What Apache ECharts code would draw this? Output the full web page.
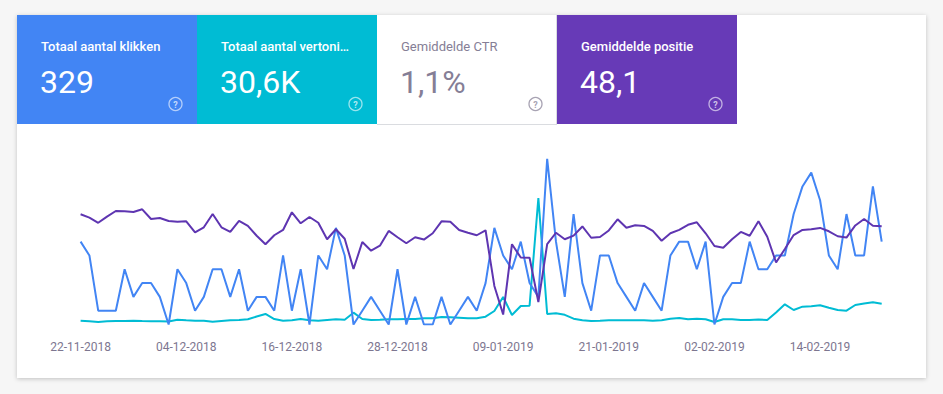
<!DOCTYPE html>
<html>
<head>
<meta charset="utf-8">
<script src="https://cdn.jsdelivr.net/npm/echarts@6/dist/echarts.min.js"></script>
<style>
html,body{margin:0;padding:0;background:#f6f6f6;}
#chart{width:943px;height:394px;}
</style>
</head>
<body>
<div id="chart"></div>
<script>
const dates = [
'22-11-2018','23-11-2018','24-11-2018','25-11-2018','26-11-2018','27-11-2018','28-11-2018','29-11-2018','30-11-2018',
'01-12-2018','02-12-2018','03-12-2018','04-12-2018','05-12-2018','06-12-2018','07-12-2018','08-12-2018','09-12-2018','10-12-2018',
'11-12-2018','12-12-2018','13-12-2018','14-12-2018','15-12-2018','16-12-2018','17-12-2018','18-12-2018','19-12-2018','20-12-2018',
'21-12-2018','22-12-2018','23-12-2018','24-12-2018','25-12-2018','26-12-2018','27-12-2018','28-12-2018','29-12-2018','30-12-2018','31-12-2018',
'01-01-2019','02-01-2019','03-01-2019','04-01-2019','05-01-2019','06-01-2019','07-01-2019','08-01-2019','09-01-2019','10-01-2019',
'11-01-2019','12-01-2019','13-01-2019','14-01-2019','15-01-2019','16-01-2019','17-01-2019','18-01-2019','19-01-2019','20-01-2019',
'21-01-2019','22-01-2019','23-01-2019','24-01-2019','25-01-2019','26-01-2019','27-01-2019','28-01-2019','29-01-2019','30-01-2019','31-01-2019',
'01-02-2019','02-02-2019','03-02-2019','04-02-2019','05-02-2019','06-02-2019','07-02-2019','08-02-2019','09-02-2019','10-02-2019',
'11-02-2019','12-02-2019','13-02-2019','14-02-2019','15-02-2019','16-02-2019','17-02-2019','18-02-2019','19-02-2019','20-02-2019','21-02-2019'
];

const clicks = [6,5,1,1,1,4,2,3,3,2, 0,4,3,1,2,4,4,2,4,1, 2,2,1,5,1,4,0,5,4,7, 5,0,1,2,1,0,4,0,2,0,
  0,2,0,1,2,1,3,7,5,4, 6,3,2,12,6,2,8,3,1,5, 5,3,2,1,3,2,1,5,6,6, 4,6,0,2,3,3,6,4,4,5,
  5,8,10,11,9,5,4,8,5,5, 10,6];

const impressions = [143,120,94,120,131,131,143,131,120,120, 113,176,158,143,143,105,131,158,169,195,
  300,394,206,143,158,206,161,143,169,195, 180,443,206,169,180,195,195,206,206,233,
  233,281,270,255,233,233,293,506,1031,356, 694,705,4744,394,420,364,218,161,131,143,
  158,158,158,158,158,139,158,218,244,195, 218,195,94,195,195,169,169,188,169,450,
  758,544,668,683,724,630,544,518,731,788, 836,776];

const position = [41.7,43.7,46.8,43.1,39.7,39.9,40.3,38.7,44.5,43.9, 45.7,46.2,45.9,52.6,49.5,41.5,49.5,52.3,45.7,48.7,
  54.6,59.7,54.3,51.1,40.5,47.1,43.3,46.8,56.7,50.7, 56.4,74.6,58.4,63.6,60.6,51.7,55.5,59.1,55.5,56.9,
  53.1,45.9,46.2,51.1,52.8,54.3,51.3,84.8,102.0,59.7, 67.7,67.8,94.5,59.7,52.8,56.7,54.5,49.0,55.8,55.4,
  51.4,44.7,49.8,48.3,48.7,51.7,57.6,53.1,51.1,48.0, 46.5,53.1,60.8,61.8,56.7,52.3,54.6,45.9,55.2,70.7,
  62.6,54.2,51.1,50.7,49.9,51.9,54.9,55.7,48.4,44.5, 48.6,48.9];

const cardTitles = ['Totaal aantal klikken','Totaal aantal vertoni\u2026','Gemiddelde CTR','Gemiddelde positie'];
const cardValues = ['329','30,6K','1,1%','48,1'];
const cardColors = ['#4285f4','#00bcd4','#ffffff','#673ab7'];

const FONT = 'Roboto, "Noto Sans", sans-serif';
const graphics = [];
graphics.push({type:'rect', shape:{x:17,y:15,width:909,height:363},
  style:{fill:'#ffffff', shadowBlur:4, shadowColor:'rgba(0,0,0,0.22)', shadowOffsetY:1}, z:-10});
cardTitles.forEach((t,k)=>{
  const x0 = 17 + k*180;
  const dark = cardColors[k] !== '#ffffff';
  graphics.push({type:'rect', shape:{x:x0,y:15,width:180,height:109}, style:{fill:cardColors[k]}, z:-5});
  if(!dark){
    graphics.push({type:'line', shape:{x1:x0+179.5,y1:15,x2:x0+179.5,y2:124}, style:{stroke:'#dadce0',lineWidth:1}, z:-4});
    graphics.push({type:'line', shape:{x1:x0,y1:124.5,x2:x0+180,y2:124.5}, style:{stroke:'#dadce0',lineWidth:1}, z:-4});
  }
  graphics.push({type:'text', x:x0+24, y:46, style:{text:t, fill: dark?'#ffffff':'#857e96', font:(dark?'500':'400')+' 13px '+FONT, verticalAlign:'middle'}});
  graphics.push({type:'text', x:x0+23, y:82, style:{text:cardValues[k], fill: dark?'#ffffff':'#857e96', font:'400 32px '+FONT, verticalAlign:'middle'}});
  graphics.push({type:'circle', shape:{cx:x0+158.5,cy:104,r:6.5}, style:{fill:'none', stroke: dark?'rgba(255,255,255,0.6)':'#a8a3b3', lineWidth:1.3}});
  graphics.push({type:'text', x:x0+158.5, y:104.5, style:{text:'?', fill: dark?'rgba(255,255,255,0.7)':'#a8a3b3', font:'bold 9px '+FONT, align:'center', verticalAlign:'middle'}});
});

const chart = echarts.init(document.getElementById('chart'), null, {renderer:'svg'});
chart.setOption({
  backgroundColor:'#f6f6f6',
  animation:false,
  graphic: graphics,
  grid:{left:80.6, right:61.3, top:145, bottom:69.5},
  xAxis:{type:'category', data:dates, boundaryGap:false,
    axisLine:{show:false}, axisTick:{show:false}, splitLine:{show:false},
    axisLabel:{interval:11, color:'#7d7690', fontSize:12, fontFamily:'Roboto', margin:16}},
  yAxis:[
    {type:'value', min:0, max:13, show:false},
    {type:'value', min:0, max:6731, show:false},
    {type:'value', min:0, max:108, inverse:true, show:false}
  ],
  series:[
    {type:'line', name:'Klikken', data:clicks, yAxisIndex:0, symbol:'none', lineStyle:{color:'#4285f4', width:2}, z:3},
    {type:'line', name:'Vertoningen', data:impressions, yAxisIndex:1, symbol:'none', lineStyle:{color:'#00bcd4', width:2}, z:2},
    {type:'line', name:'Positie', data:position, yAxisIndex:2, symbol:'none', lineStyle:{color:'#5e35b1', width:2}, z:4}
  ]
});
</script>
</body>
</html>
